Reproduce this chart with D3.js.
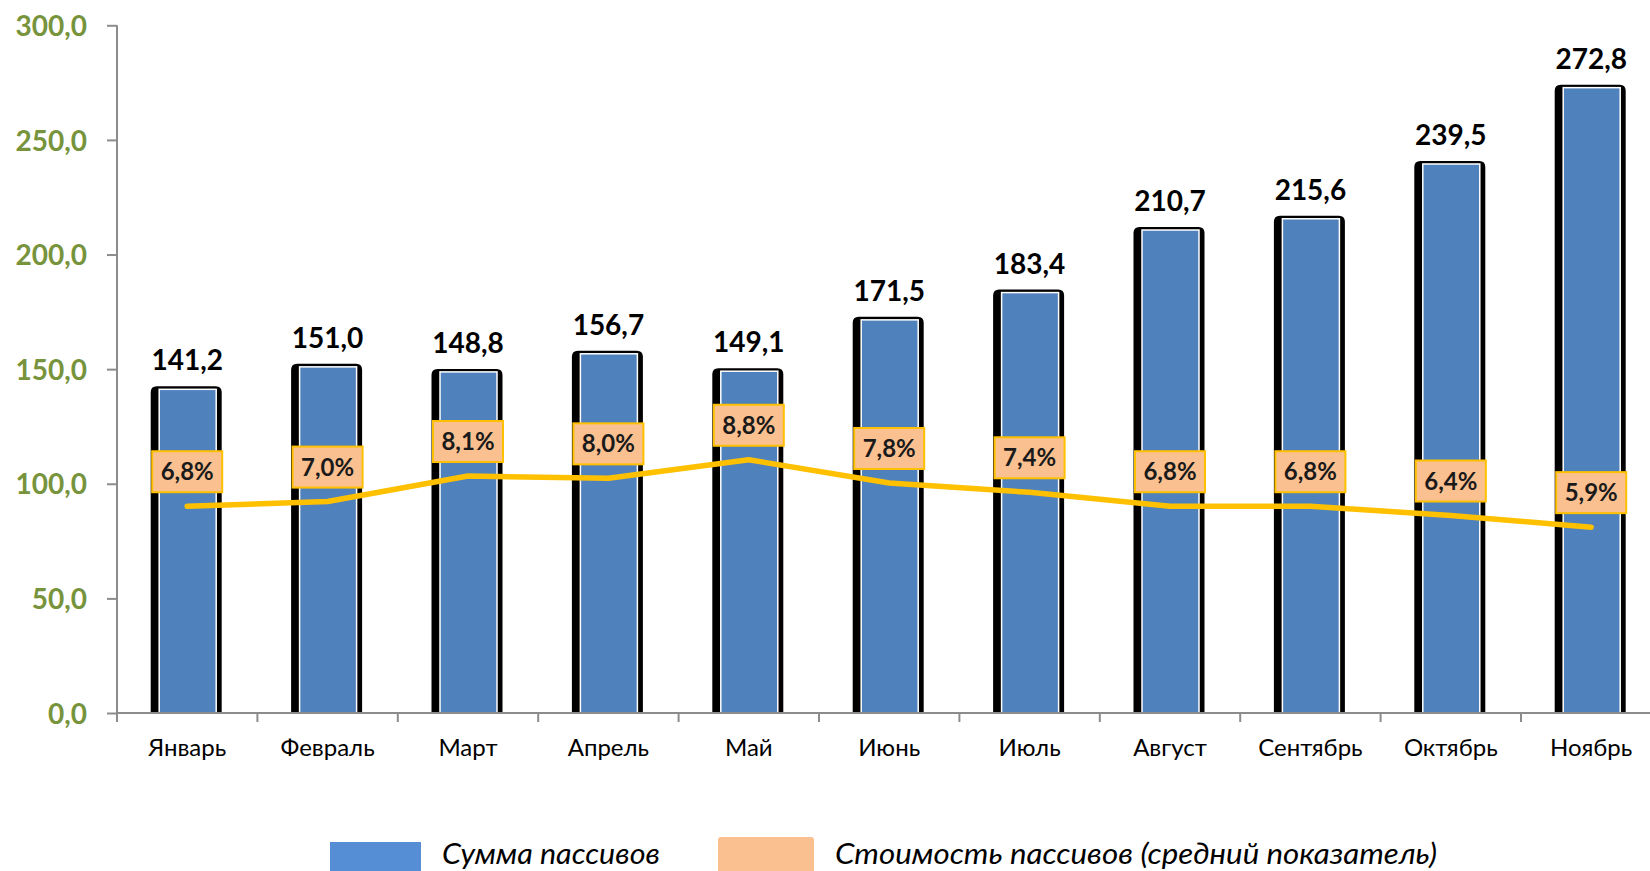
<!DOCTYPE html>
<html>
<head>
<meta charset="utf-8">
<script src="https://cdn.jsdelivr.net/npm/d3@7"></script>
<style>
  html, body { margin: 0; padding: 0; background: #fff; }
  svg { display: block; }
  text { font-family: Lato, "Open Sans", sans-serif; }
</style>
</head>
<body>
<svg id="chart" width="1650" height="871"></svg>
<script>
// Liabilities by month (bars) and average cost of liabilities, % (line)
const months = ["Январь", "Февраль", "Март", "Апрель", "Май", "Июнь", "Июль", "Август", "Сентябрь", "Октябрь", "Ноябрь"];
const totals = [141.2, 151.0, 148.8, 156.7, 149.1, 171.5, 183.4, 210.7, 215.6, 239.5, 272.8];
const rates  = [6.8, 7.0, 8.1, 8.0, 8.8, 7.8, 7.4, 6.8, 6.8, 6.4, 5.9];
const yTicks = [0, 50, 100, 150, 200, 250, 300];
const legendItems = ["Сумма пассивов", "Стоимость пассивов (средний показатель)"];

const svg = d3.select("#chart");
const fmt1 = v => d3.format(".1f")(v).replace(".", ",");

const plot = { left: 117, top: 25.3, bottom: 713, step: 140.4 };

const x = d3.scaleBand()
  .domain(months)
  .range([plot.left, plot.left + plot.step * months.length])
  .paddingInner(0).paddingOuter(0);

const y = d3.scaleLinear().domain([0, 300]).range([plot.bottom, plot.top]);
// secondary (hidden) scale for the rate line
const y2 = d3.scaleLinear().domain([-2.1, 27.5]).range([plot.bottom, plot.top]);

const axisColor = "#8c8c8c";

// Y axis
const yAxis = svg.append("g").attr("transform", `translate(${plot.left},0)`)
  .call(d3.axisLeft(y).tickValues(yTicks).tickSize(10).tickPadding(20).tickFormat(fmt1));
yAxis.select(".domain").attr("stroke", axisColor).attr("stroke-width", 2)
  .attr("d", `M0,${plot.top}V${plot.bottom}`);
yAxis.selectAll(".tick line").attr("stroke", axisColor).attr("stroke-width", 2);
yAxis.selectAll(".tick text")
  .attr("fill", "#77933c").attr("font-size", 28).attr("font-weight", 700)
  .attr("dy", "0.36em");

// Bars: black rounded backing, blue body with a thin white edge
const cx = m => x(m) + x.bandwidth() / 2;
const bars = svg.append("g");
months.forEach((m, i) => {
  const c = cx(m) - 0.5;
  const top = y(totals[i]);
  const l = c - 36, r = c + 35, t = top - 3, rr = 6;
  bars.append("path")
    .attr("d", `M${l},${plot.bottom}V${t + rr}Q${l},${t} ${l + rr},${t}H${r - rr}Q${r},${t} ${r},${t + rr}V${plot.bottom}Z`)
    .attr("fill", "#000");
  bars.append("rect")
    .attr("x", c - 27.5).attr("y", top)
    .attr("width", 57).attr("height", plot.bottom - top)
    .attr("fill", "#4f81bd").attr("stroke", "#fff").attr("stroke-width", 1.5);
});

// X axis
const xAxisG = svg.append("g");
xAxisG.append("line")
  .attr("x1", plot.left).attr("x2", 1650)
  .attr("y1", plot.bottom).attr("y2", plot.bottom)
  .attr("stroke", axisColor).attr("stroke-width", 2);
months.forEach(m => {
  xAxisG.append("line")
    .attr("x1", x(m)).attr("x2", x(m))
    .attr("y1", plot.bottom).attr("y2", plot.bottom + 9)
    .attr("stroke", axisColor).attr("stroke-width", 2);
});
xAxisG.append("line")
  .attr("x1", x.range()[1]).attr("x2", x.range()[1])
  .attr("y1", plot.bottom).attr("y2", plot.bottom + 9)
  .attr("stroke", axisColor).attr("stroke-width", 2);
xAxisG.selectAll("text.cat").data(months).join("text")
  .attr("class", "cat")
  .attr("x", d => cx(d)).attr("y", 756)
  .attr("text-anchor", "middle").attr("font-size", 24).attr("fill", "#000")
  .text(d => d);

// Value labels above bars
svg.append("g").selectAll("text").data(months).join("text")
  .attr("x", d => cx(d)).attr("y", (d, i) => y(totals[i]) - 19)
  .attr("text-anchor", "middle").attr("font-size", 28).attr("font-weight", 700)
  .attr("fill", "#000")
  .text((d, i) => fmt1(totals[i]));

// Rate line
const line = d3.line().x(d => cx(d.m)).y(d => y2(d.v));
const pts = months.map((m, i) => ({ m, v: rates[i] }));
svg.append("path")
  .datum(pts)
  .attr("d", line)
  .attr("fill", "none").attr("stroke", "#ffc000").attr("stroke-width", 5.5)
  .attr("stroke-linecap", "round").attr("stroke-linejoin", "round");

// Rate labels
const rl = svg.append("g");
pts.forEach(p => {
  const c = cx(p.m), cy = y2(p.v) - 34.5;
  rl.append("rect")
    .attr("x", c - 35).attr("y", cy - 20.5).attr("width", 70).attr("height", 41)
    .attr("fill", "#fac090").attr("stroke", "#ffc000").attr("stroke-width", 2);
  rl.append("text")
    .attr("x", c).attr("y", cy).attr("dy", "0.36em")
    .attr("text-anchor", "middle").attr("font-size", 24).attr("font-weight", 700)
    .attr("fill", "#1a1a1a")
    .text(fmt1(p.v) + "%");
});

// Legend
const lg = svg.append("g");
lg.append("rect").attr("x", 330).attr("y", 842).attr("width", 91).attr("height", 40).attr("fill", "#558ed5");
lg.append("text").attr("x", 442).attr("y", 864).attr("font-size", 28).attr("font-style", "italic")
  .attr("fill", "#000").attr("textLength", 218).attr("lengthAdjust", "spacingAndGlyphs")
  .text(legendItems[0]);
lg.append("rect").attr("x", 718).attr("y", 837).attr("width", 96).attr("height", 45).attr("rx", 3)
  .attr("fill", "#fac090");
lg.append("text").attr("x", 835).attr("y", 864).attr("font-size", 28).attr("font-style", "italic")
  .attr("fill", "#000").attr("textLength", 602).attr("lengthAdjust", "spacingAndGlyphs")
  .text(legendItems[1]);
</script>
</body>
</html>
